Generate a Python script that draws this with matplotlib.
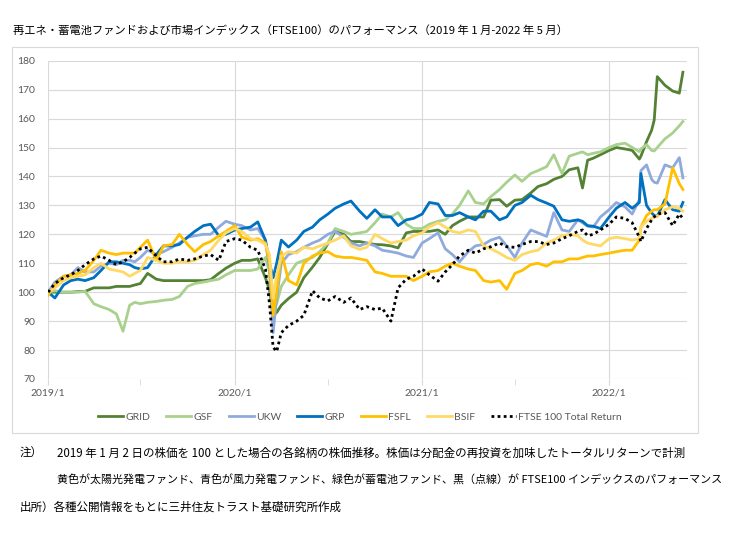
import matplotlib
matplotlib.use("Agg")
import matplotlib.pyplot as plt
from matplotlib.patches import Rectangle
import pandas as pd

plt.rcParams["font.family"] = ["Lato", "Noto Sans CJK JP", "DejaVu Sans"]

# semi-monthly readings (2019/1/2 = 100), a few extra dates around sharp moves
dates = [
    "2019-01-02", "2019-01-15", "2019-02-01", "2019-02-15", "2019-03-01", "2019-03-15",
    "2019-04-01", "2019-04-15", "2019-05-01", "2019-05-15", "2019-05-28", "2019-06-10",
    "2019-06-20", "2019-07-01", "2019-07-15", "2019-08-01", "2019-08-15", "2019-09-01",
    "2019-09-15", "2019-10-01", "2019-10-15", "2019-11-01", "2019-11-15", "2019-12-01",
    "2019-12-15", "2020-01-01", "2020-01-15", "2020-02-01", "2020-02-15", "2020-03-01",
    "2020-03-09", "2020-03-16", "2020-03-23", "2020-04-01", "2020-04-15", "2020-05-01",
    "2020-05-15", "2020-06-01", "2020-06-15", "2020-07-01", "2020-07-15", "2020-08-01",
    "2020-08-15", "2020-09-01", "2020-09-15", "2020-10-01", "2020-10-15", "2020-11-01",
    "2020-11-15", "2020-12-01", "2020-12-15", "2021-01-01", "2021-01-15", "2021-02-01",
    "2021-02-15", "2021-03-01", "2021-03-15", "2021-04-01", "2021-04-15", "2021-05-01",
    "2021-05-15", "2021-06-01", "2021-06-15", "2021-07-01", "2021-07-15", "2021-08-01",
    "2021-08-15", "2021-09-01", "2021-09-15", "2021-10-01", "2021-10-15", "2021-11-01",
    "2021-11-10", "2021-11-20", "2021-12-01", "2021-12-15", "2022-01-01", "2022-01-15",
    "2022-02-01", "2022-02-15", "2022-03-01", "2022-03-04", "2022-03-15", "2022-03-25",
    "2022-03-30", "2022-04-05", "2022-04-20", "2022-05-05", "2022-05-18", "2022-05-25",
]

grid = [
    100, 100, 100, 100, 100.2, 100.3, 101.5, 101.5, 101.5, 102, 102, 102, 102.5, 103,
    106.5, 104.5, 104, 104, 104, 104, 104, 104, 104.3, 106.5, 108.3,
    110, 111, 111, 111.5, 105, 100.7, 92, 93, 95.5, 97.8, 100, 105, 108.7, 112, 116.8,
    121, 120, 117.5, 117.5, 117, 116.5, 116.4, 116, 115.3, 120.5, 121,
    121, 121, 121.5, 120, 123, 124.5, 126, 126, 126, 131.8, 132, 129.7, 131.8, 132,
    134.3, 136.5, 137.5, 139, 140, 142.3, 143, 136, 145.6, 146.3, 147.5,
    149, 150, 149.5, 149, 146, 147, 152, 156, 159.5, 174.5, 171.5, 169.5, 168.8, 176,
]
gsf = [
    100, 100.5, 100, 100, 100, 100.3, 96, 95, 94, 92.5, 86.5, 95.5, 96.5, 96,
    96.5, 96.8, 97.2, 97.5, 98.5, 102, 103, 103.5, 104, 104.5, 106,
    107.5, 107.5, 107.5, 108, 112, 107, 94, 96, 102, 106, 110, 111, 112, 114, 117,
    122, 121, 120, 120.5, 121, 124, 127, 126, 127.5, 123.5, 122,
    122, 123.5, 124.5, 125, 127, 130, 135, 131, 130.5, 133, 135.5, 138, 140.5, 138.3,
    141, 142, 143.4, 147.5, 141, 147, 148, 148.5, 147.5, 148, 148.5,
    150, 151, 151.5, 150, 148.6, 149.5, 151, 149, 148.8, 150, 153, 155, 157.5, 159,
]
ukw = [
    100, 103.5, 105.5, 106, 108.5, 107, 107, 109, 110, 109.5, 111, 111, 110.5, 112,
    114.5, 113, 114, 115.5, 117, 119, 119.5, 120, 120, 122.5, 124.5,
    123.5, 123, 121.5, 122, 118, 108, 86, 98, 110, 113, 114, 115.5, 117, 118, 120,
    121, 119, 117, 116, 117, 116, 114.5, 114, 113.5, 112.5, 112,
    117, 118.5, 120.5, 115, 113, 110.5, 114, 116, 116.5, 118, 119, 116, 112, 117,
    121.5, 120.5, 119.3, 127.5, 121.5, 121, 125, 124, 122.8, 122.5, 126,
    128.5, 131, 129.5, 127, 132, 142, 144, 139, 138, 137.7, 144, 143, 146.5, 139.5,
]
grp = [
    100, 98, 102.5, 104, 104.5, 104, 105, 107.5, 110.5, 110.5, 110, 109.5, 108.5, 108,
    108.5, 113, 116, 116, 116.5, 119, 121, 123, 123.5, 119.5, 120,
    121.5, 122, 122.5, 124.3, 118, 110, 105, 110, 118, 115.6, 118, 121, 122.5, 125, 127,
    129, 130.5, 131.5, 128, 125.5, 128.5, 126, 126, 123, 125, 125.5,
    127, 131, 130.5, 126.5, 126.5, 127.5, 126, 125, 128, 128, 125, 126, 130, 131,
    133.5, 132, 130.8, 129.7, 125, 124.5, 125, 124.5, 123, 122.8, 122,
    126, 129, 131, 129, 131, 141, 130, 127.4, 126.5, 126.2, 132, 128.5, 128, 131,
]
fsfl = [
    99, 102.5, 105.5, 106, 106.5, 107.5, 111, 114.5, 113.5, 113, 113.5, 113.5, 113.5, 115.5,
    118, 111, 116, 116.5, 120, 116.5, 114, 116.5, 117.5, 119.5, 121,
    123, 119, 118, 118.5, 117, 110, 92, 100, 114, 104, 102.5, 110, 112.5, 113.5, 114,
    112.5, 112, 112, 111.5, 111, 107, 106.5, 105.5, 105.5, 105.5, 104,
    105.5, 107, 107.5, 109, 110, 109, 108, 107.5, 104, 103.5, 104, 101, 106.5, 107.5,
    109.5, 110, 109, 110.5, 110.5, 111.5, 111.5, 112, 112.5, 112.5, 113,
    113.5, 114, 114.5, 114.5, 118, 122.5, 126.5, 128, 128.5, 128.5, 130.5, 143, 137.5, 135.5,
]
bsif = [
    100, 101.5, 104, 105, 105.5, 106, 108.5, 110, 108, 107.5, 107, 105.5, 106.5, 107.5,
    112, 111, 110, 110, 110.5, 110.5, 111, 113, 114.5, 118, 120.5,
    122, 121, 118.5, 118, 116.5, 113, 98, 106, 112.5, 114, 113.5, 115.5, 115, 116, 117,
    118, 119.5, 116, 114.8, 115.5, 120, 118.5, 117, 117.5, 118, 119.5,
    120.5, 122.5, 124, 122.5, 121, 120.5, 121.5, 121, 116, 115, 113.5, 112, 111, 113,
    114, 114.5, 117, 118, 119.5, 120, 119.5, 118, 117, 116.5, 116,
    118.5, 119, 118.5, 118, 118.5, 122.5, 124.5, 125.5, 126, 126.2, 128.5, 129.5, 129, 128,
]
ftse = [
    100, 103, 105, 106, 107.5, 109.5, 111.5, 112.5, 111, 109.5, 110.5, 112, 113.5, 115,
    115.5, 112.5, 110.5, 110.5, 111.5, 111, 111.5, 112.5, 113, 111, 117.5,
    118.5, 118, 115.5, 114.5, 108, 96, 81, 79.5, 86, 88.5, 90, 92, 100.5, 98, 97,
    98.5, 96.5, 98, 94, 95, 94, 94.5, 90, 101.5, 104.5, 105.5,
    108, 106, 103.8, 107, 109.5, 112.5, 114.5, 113.5, 115, 115.7, 117, 115.7, 115.5, 116.5,
    117.5, 117.5, 116.5, 117, 118.5, 119.5, 121, 121.5, 119.5, 120, 121.5,
    123.5, 126, 125.5, 124, 119, 117.5, 122, 125, 126, 127, 127.5, 123, 127, 125.5,
]

names = ["GRID", "GSF", "UKW", "GRP", "FSFL", "BSIF"]
colors = ["#548235", "#A9D18E", "#8FAADC", "#0070C0", "#FFC000", "#FFD966"]
year_ticks = ["2019-01-01", "2020-01-01", "2021-01-01", "2022-01-01"]
year_labels = ["2019/1", "2020/1", "2021/1", "2022/1"]
half_ticks = ["2019-07-01", "2020-07-01", "2021-07-01"]

x = pd.to_datetime(dates)
W, H = 739, 534
fig = plt.figure(figsize=(W / 100, H / 100), dpi=100)
fig.patches.append(Rectangle((12 / W, 1 - 433 / H), 686 / W, 386 / H, transform=fig.transFigure,
                             fill=False, ec="#D9D9D9", lw=0.8))

ax = fig.add_axes([47.7 / W, 1 - 379 / H, (687 - 47.7) / W, (379 - 60.7) / H])
for n, v, c in zip(names, [grid, gsf, ukw, grp, fsfl, bsif], colors):
    ax.plot(x, v, color=c, lw=2.0, label=n)
ax.plot(x, ftse, color="black", lw=2.0, ls=(0, (1, 1.2)), label="FTSE 100 Total Return")

ax.set_ylim(70, 180)
ax.set_yticks(range(70, 181, 10))
ax.set_xlim(pd.Timestamp("2019-01-01"), pd.Timestamp("2022-06-02"))
ax.set_xticks(pd.to_datetime(year_ticks))
ax.set_xticklabels(year_labels)
ax.set_xticks(pd.to_datetime(half_ticks), minor=True)
ax.grid(True, which="major", color="#D9D9D9", lw=0.8)
ax.set_axisbelow(True)
for s in ax.spines.values():
    s.set_visible(False)
ax.tick_params(axis="y", length=0, pad=9, labelsize=7.5, labelcolor="#595959")
ax.tick_params(axis="x", which="both", length=4, color="#D9D9D9", pad=3,
               labelsize=7.5, labelcolor="#595959")

leg = fig.legend(loc="center", bbox_to_anchor=(360 / W, 1 - 417 / H), ncol=7, frameon=False,
                 fontsize=7.5, handlelength=2.4, handletextpad=0.2, columnspacing=1.55)
for t in leg.get_texts():
    t.set_color("#595959")

jp = ["Noto Sans CJK JP", "DejaVu Sans"]
fig.text(13 / W, 1 - 31 / H,
         "再エネ・蓄電池ファンドおよび市場インデックス（FTSE100）のパフォーマンス（2019 年 1 月-2022 年 5 月）",
         fontsize=8.15, va="center", family=jp)
fig.text(20 / W, 1 - 453 / H, "注）", fontsize=8.3, va="center", family=jp)
fig.text(57 / W, 1 - 453 / H,
         "2019 年 1 月 2 日の株価を 100 とした場合の各銘柄の株価推移。株価は分配金の再投資を加味したトータルリターンで計測",
         fontsize=8.3, va="center", family=jp)
fig.text(57 / W, 1 - 480 / H,
         "黄色が太陽光発電ファンド、青色が風力発電ファンド、緑色が蓄電池ファンド、黒（点線）が FTSE100 インデックスのパフォーマンス",
         fontsize=7.95, va="center", family=jp)
fig.text(20 / W, 1 - 507 / H, "出所）各種公開情報をもとに三井住友トラスト基礎研究所作成",
         fontsize=8.3, va="center", family=jp)

fig.savefig("out.png", dpi=100)
